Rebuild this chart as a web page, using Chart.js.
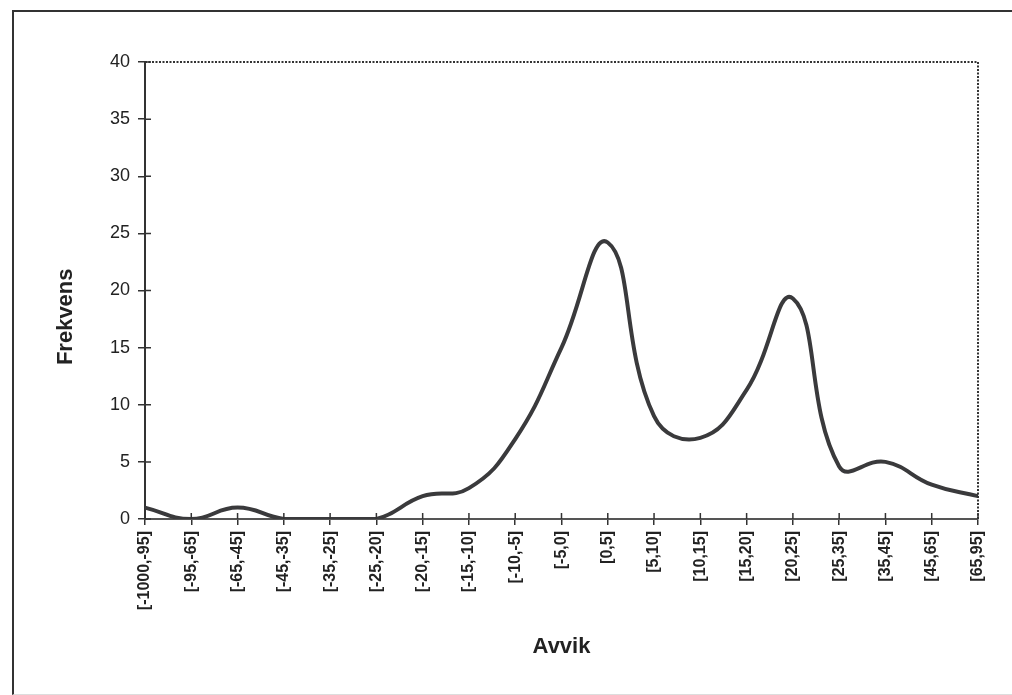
<!DOCTYPE html>
<html>
<head>
<meta charset="utf-8">
<script src="https://cdn.jsdelivr.net/npm/chart.js@4.4.1/dist/chart.umd.min.js"></script>
<style>
  html, body { margin: 0; padding: 0; background: #fff; overflow: hidden; }
  #frame {
    position: absolute; left: 12px; top: 10px; width: 1100px; height: 682px;
    border-left: 2px solid #333; border-top: 2px solid #333; border-bottom: 1px solid #ddd;
  }
  #wrap { position: absolute; left: 0; top: 0; width: 1012px; height: 695px; }
</style>
</head>
<body>
<div id="frame"></div>
<div id="wrap"><canvas id="chart" width="1012" height="695"></canvas></div>
<script>
// Kategorier (avvik-intervaller) og frekvenser lest av figuren
const categories = ["[-1000,-95]", "[-95,-65]", "[-65,-45]", "[-45,-35]", "[-35,-25]",
  "[-25,-20]", "[-20,-15]", "[-15,-10]", "[-10,-5]", "[-5,0]", "[0,5]", "[5,10]",
  "[10,15]", "[15,20]", "[20,25]", "[25,35]", "[35,45]", "[45,65]", "[65,95]"];
const frekvens = [1, 0, 1, 0, 0, 0, 2, 2.7, 7, 15, 24.2, 9, 7.1, 11.3, 19.3, 4.6, 5, 3, 2];
const yTicks = [0, 5, 10, 15, 20, 25, 30, 35, 40];
const yTitle = "Frekvens";

const axisColor = "#333";
const fontFamily = "'Liberation Sans', Arial, sans-serif";

// Tegner ramme (prikket topp/høyre), kryssende tick-merker og y-aksetittel
const framePlugin = {
  id: "frame",
  afterDraw(chart) {
    const { ctx, chartArea: a, scales } = chart;
    ctx.save();
    ctx.strokeStyle = axisColor;
    ctx.lineWidth = 2;
    ctx.setLineDash([2, 1.5]);
    ctx.beginPath();
    ctx.moveTo(a.left, a.top);
    ctx.lineTo(a.right, a.top);
    ctx.lineTo(a.right, a.bottom);
    ctx.stroke();
    ctx.setLineDash([]);
    ctx.lineWidth = 1.5;
    ctx.beginPath();
    yTicks.forEach((v) => {
      const y = scales.y.getPixelForValue(v);
      ctx.moveTo(a.left, y);
      ctx.lineTo(a.left + 6, y);
    });
    categories.forEach((c, i) => {
      const x = scales.x.getPixelForValue(i);
      ctx.moveTo(x, a.bottom);
      ctx.lineTo(x, a.bottom - 6);
    });
    ctx.stroke();

    // y-tittel litt under midten, som i originalen
    ctx.translate(66, scales.y.getPixelForValue(17.7));
    ctx.rotate(-Math.PI / 2);
    ctx.fillStyle = "#222";
    ctx.font = "bold 22px " + fontFamily;
    ctx.textAlign = "center";
    ctx.textBaseline = "middle";
    ctx.fillText(yTitle, 0, 0);
    ctx.restore();
  },
};

const ctx = document.getElementById("chart").getContext("2d");
new Chart(ctx, {
  type: "line",
  data: {
    labels: categories,
    datasets: [{
      data: frekvens,
      borderColor: "#3a3a3c",
      borderWidth: 4,
      pointRadius: 0,
      fill: false,
      tension: 0.45,
    }],
  },
  options: {
    responsive: false,
    animation: false,
    layout: { padding: { left: 50, top: 62, right: 34, bottom: 35 } },
    plugins: { legend: { display: false }, tooltip: { enabled: false } },
    scales: {
      x: {
        offset: false,
        afterFit: (s) => { s.height = 141; },
        grid: { display: true, drawOnChartArea: false, tickLength: 6, color: axisColor, lineWidth: 1.5 },
        border: { color: "#555", width: 2 },
        ticks: {
          autoSkip: false, maxRotation: 90, minRotation: 90, padding: 6,
          color: "#222", font: { family: fontFamily, size: 16, weight: "bold" },
        },
        title: {
          display: true, text: "Avvik", color: "#222",
          font: { family: fontFamily, size: 22, weight: "bold" }, padding: { top: 0, bottom: 0 },
        },
      },
      y: {
        min: 0, max: 40,
        afterFit: (s) => { s.width = 95; },
        afterBuildTicks: (s) => { s.ticks = yTicks.map((v) => ({ value: v })); },
        grid: { display: true, drawOnChartArea: false, tickLength: 7, color: axisColor, lineWidth: 1.5 },
        border: { color: axisColor, width: 2 },
        ticks: { padding: 8, color: "#222", font: { family: fontFamily, size: 18 } },
        title: { display: false },
      },
    },
  },
  plugins: [framePlugin],
});
</script>
</body>
</html>
